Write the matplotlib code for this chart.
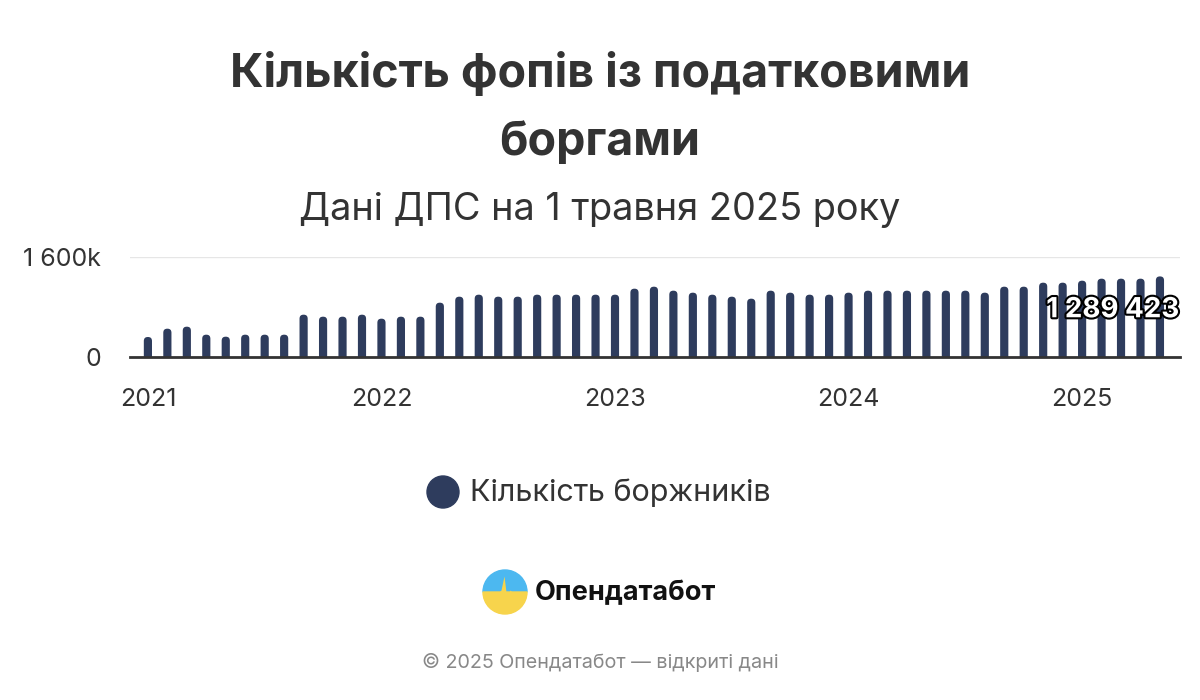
import matplotlib
matplotlib.use("Agg")
import matplotlib.pyplot as plt
import matplotlib.patheffects as pe
from matplotlib.patches import Circle, Wedge, FancyBboxPatch
import numpy as np

plt.rcParams['font.family'] = ['Inter', 'DejaVu Sans']

# Monthly data, Jan 2021 .. May 2025
months = [f"{y}-{m:02d}" for y in range(2021, 2026) for m in range(1, 13)][:53]
debtors = [
    320000, 453000, 485000, 357000, 325000, 357000, 357000, 357000, 677000, 645000, 645000, 677000,
    613000, 645000, 645000, 869000, 965000, 997000, 965000, 965000, 997000, 997000, 997000, 997000,
    997000, 1093000, 1125000, 1061000, 1029000, 997000, 965000, 933000, 1061000, 1029000, 997000, 997000,
    1029000, 1061000, 1061000, 1061000, 1061000, 1061000, 1061000, 1029000, 1125000, 1125000, 1189000, 1189000,
    1221000, 1253000, 1253000, 1253000, 1289423,
]
year_labels = ["2021", "2022", "2023", "2024", "2025"]
year_positions = [months.index(f"{y}-01") for y in year_labels]
series_name = "Кількість боржників"
title_lines = ["Кількість фопів із податковими", "боргами"]
subtitle = "Дані ДПС на 1 травня 2025 року"
last_label = "1 289 423"

BAR = "#2e3c5d"
TXT = "#333333"

fig = plt.figure(figsize=(12, 7), dpi=100)
fig.patch.set_facecolor("white")

for line, ypx in zip(title_lines, [75, 143]):
    fig.text(0.5, 1 - ypx / 700, line, ha="center", va="center", fontsize=33.5,
             fontweight="bold", color=TXT)
fig.text(0.5, 1 - 210 / 700, subtitle, ha="center", va="center", fontsize=27.3, color=TXT)

ax = fig.add_axes([130 / 1200, 1 - 357 / 700, 1050 / 1200, 100 / 700])
x = np.arange(len(debtors))
bars = ax.bar(x, debtors, width=0.42, color=BAR, zorder=3)
ax.set_xlim(-0.92, 53.03)
ax.set_ylim(0, 1600000)

# rounded bar tops: replace each rectangle with a rounded box (bottom hidden below axis)
xr = 0.2
yr = 64000
for b in bars:
    x0, w, h = b.get_x(), b.get_width(), b.get_height()
    fb = FancyBboxPatch((x0, -yr), w, h + yr,
                        boxstyle=f"round,pad=0,rounding_size={xr}",
                        mutation_aspect=yr / xr, fc=BAR, ec="none", zorder=3)
    ax.add_patch(fb)
    b.set_visible(False)

ax.set_yticks([0, 1600000])
ax.set_yticklabels(["0", "1 600k"])
ax.set_xticks(year_positions)
ax.set_xticklabels(year_labels)
ax.tick_params(axis="y", length=0, pad=21, labelsize=18, labelcolor=TXT)
ax.tick_params(axis="x", length=0, pad=22, labelsize=18, labelcolor=TXT)
ax.grid(axis="y", color="#e6e6e6", linewidth=1, zorder=0)
for s in ["top", "right", "left"]:
    ax.spines[s].set_visible(False)
ax.spines["bottom"].set_color("#333333")
ax.spines["bottom"].set_linewidth(2)
ax.spines["bottom"].set_zorder(4)

t = ax.text(x[-1] + 1.0, debtors[-1] * 0.58, last_label, ha="right", va="center",
            fontsize=20, fontweight="bold", color="white", zorder=5)
t.set_path_effects([pe.Stroke(linewidth=3, foreground="black"), pe.Normal()])

# overlay axes in pixel coordinates for legend / logo
lax = fig.add_axes([0, 0, 1, 1], zorder=-1)
lax.set_xlim(0, 1200)
lax.set_ylim(700, 0)
lax.axis("off")
lax.add_patch(Circle((443, 492), 16, color=BAR))
lax.text(470, 493, series_name, ha="left", va="center", fontsize=22, color=TXT)

# Logo
cx, cy, r = 505, 592, 22
clip = Circle((cx, cy), r, transform=lax.transData, fc="none", ec="none")
lax.add_patch(clip)
lax.add_patch(Wedge((cx, cy), r, 180, 360, color="#4cb8f0"))
lax.add_patch(Wedge((cx, cy), r, 0, 180, color="#f7d44c"))
px = [cx - r, cx - 8, cx - 4, cx - 1, cx + 2, cx + 5, cx + 9, cx + r]
py = [cy + 2, cy + 2, cy - 2, cy - 16, cy + 8, cy - 2, cy + 2, cy + 2]
fbl = lax.fill_between(px, py, [cy + r] * len(px), color="#f7d44c", zorder=3, lw=0)
fbl.set_clip_path(clip)
lax.text(535, 593, "Опендатабот", ha="left", va="center", fontsize=19.5,
         fontweight="bold", color="#111111")

fig.text(0.5, 1 - 663 / 700, "© 2025 Опендатабот — відкриті дані", ha="center", va="center",
         fontsize=14.2, color="#888888")

fig.savefig("out.png", dpi=100, facecolor="white")
